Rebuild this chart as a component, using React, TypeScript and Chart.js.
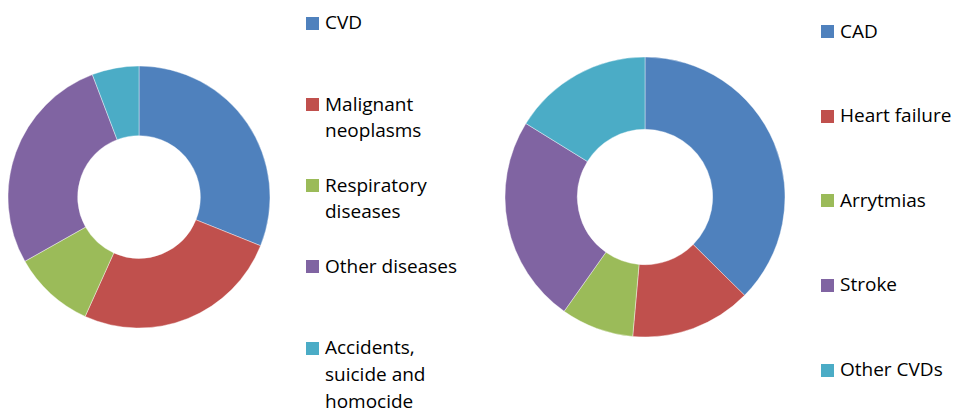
import React, { useEffect, useRef } from "react";
import { Chart, registerables } from "chart.js";

Chart.register(...registerables);

const causeLabels: string[][] = [
  ["CVD"],
  ["Malignant", "neoplasms"],
  ["Respiratory", "diseases"],
  ["Other diseases"],
  ["Accidents,", "suicide and", "homocide"],
];
const causeValues = [31.1, 25.7, 10.1, 27.4, 5.8];

const cvdLabels: string[][] = [["CAD"], ["Heart failure"], ["Arrytmias"], ["Stroke"], ["Other CVDs"]];
const cvdValues = [37.4, 14.0, 8.4, 24.0, 16.2];

const palette = ["#4F81BD", "#C0504D", "#9BBB59", "#8064A2", "#4BACC6"];

const FONT = "'Open Sans', Lato, sans-serif";

function Donut(props: {
  labels: string[][];
  values: number[];
  left: number;
  top: number;
  size: number;
  radius: number;
  cutout: number;
}) {
  const ref = useRef<HTMLCanvasElement | null>(null);
  useEffect(() => {
    if (!ref.current) return;
    const chart = new Chart(ref.current, {
      type: "doughnut",
      data: {
        labels: props.labels,
        datasets: [
          {
            data: props.values,
            backgroundColor: palette,
            borderColor: "#ffffff",
            borderWidth: 0.4,
          },
        ],
      },
      options: {
        animation: false,
        responsive: false,
        maintainAspectRatio: false,
        radius: props.radius,
        cutout: props.cutout,
        layout: { padding: 0 },
        plugins: { legend: { display: false }, tooltip: { enabled: false } },
      },
    });
    return () => chart.destroy();
  }, []);
  return (
    <canvas
      ref={ref}
      width={props.size}
      height={props.size}
      style={{ position: "absolute", left: props.left, top: props.top, width: props.size, height: props.size }}
    />
  );
}

function Legend(props: { labels: string[][]; left: number; top: number; step: number }) {
  return (
    <>
      {props.labels.map((lines, i) => (
        <div
          key={i}
          style={{
            position: "absolute",
            left: props.left,
            top: props.top + i * props.step,
            fontFamily: FONT,
            fontSize: 19,
            lineHeight: "26.7px",
            color: "#000",
            whiteSpace: "nowrap",
          }}
        >
          <div
            style={{
              position: "absolute",
              left: -19,
              top: 7.5,
              width: 13,
              height: 13,
              background: palette[i],
            }}
          />
          {lines.map((l, j) => (
            <div key={j}>{l}</div>
          ))}
        </div>
      ))}
    </>
  );
}

export default function App() {
  useEffect(() => {
    document.body.style.margin = "0";
  }, []);
  return (
    <div style={{ position: "fixed", left: 0, top: 0, width: 960, height: 411, background: "#fff", overflow: "hidden" }}>
      <Donut labels={causeLabels} values={causeValues} left={0} top={58} size={278} radius={131} cutout={65} />
      <Legend labels={causeLabels} left={325} top={9.3} step={81.2} />
      <Donut labels={cvdLabels} values={cvdValues} left={500} top={52} size={290} radius={140} cutout={70} />
      <Legend labels={cvdLabels} left={840} top={17.6} step={84.6} />
    </div>
  );
}
